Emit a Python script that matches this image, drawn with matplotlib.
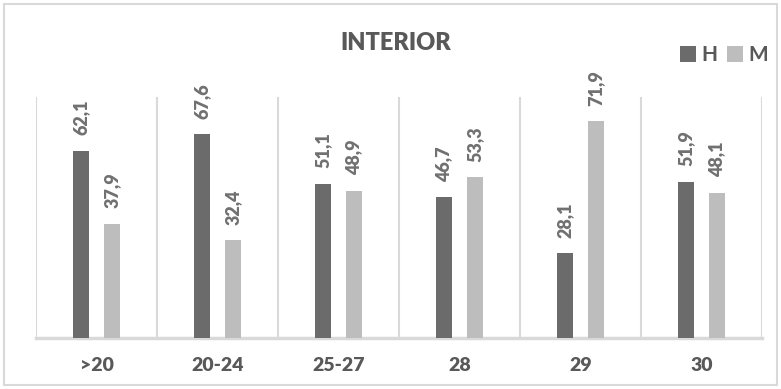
import matplotlib
matplotlib.use("Agg")
import matplotlib.pyplot as plt
from matplotlib.patches import Rectangle
import numpy as np

categories = [">20", "20-24", "25-27", "28", "29", "30"]
h_values = [62.1, 67.6, 51.1, 46.7, 28.1, 51.9]
m_values = [37.9, 32.4, 48.9, 53.3, 71.9, 48.1]
h_labels = ["62,1", "67,6", "51,1", "46,7", "28,1", "51,9"]
m_labels = ["37,9", "32,4", "48,9", "53,3", "71,9", "48,1"]
title = "INTERIOR"
series_names = ["H", "M"]

plt.rcParams['font.family'] = ['Lato', 'DejaVu Sans']

W, H = 781, 389
fig = plt.figure(figsize=(W / 100, H / 100), dpi=100)
fig.patch.set_facecolor("white")

# outer border
fig.add_artist(Rectangle((4 / W, 4 / H), 773 / W, 381 / H, transform=fig.transFigure,
                         fill=False, edgecolor="#d9d9d9", linewidth=1.5))

ax = fig.add_axes([36 / W, 1 - 338 / H, (762 - 36) / W, (338 - 97) / H])
c_h = "#6b6b6b"
c_m = "#bdbdbd"
txt = "#595959"
lbl = "#707070"

x = np.arange(len(categories))
bw = 0.14
off = 0.128
ax.bar(x - off, h_values, bw, color=c_h, label=series_names[0], zorder=3)
ax.bar(x + off, m_values, bw, color=c_m, label=series_names[1], zorder=3)

for i in range(len(categories)):
    ax.text(x[i] - off, h_values[i] + 5.2, h_labels[i], rotation=90, ha="center", va="bottom",
            fontsize=13, fontweight="heavy", color=lbl)
    ax.text(x[i] + off, m_values[i] + 5.2, m_labels[i], rotation=90, ha="center", va="bottom",
            fontsize=13, fontweight="heavy", color=lbl)

ax.set_xlim(-0.5, len(categories) - 0.5)
ax.set_ylim(0, 80)
for b in np.arange(-0.5, len(categories), 1.0):
    ax.axvline(b, color="#d9d9d9", linewidth=1.5, zorder=1)
for s in ["top", "left", "right"]:
    ax.spines[s].set_visible(False)
ax.spines["bottom"].set_color("#d9d9d9")
ax.spines["bottom"].set_linewidth(2.5)
ax.set_yticks([])
ax.set_xticks(x)
ax.set_xticklabels(categories, fontsize=14, fontweight="heavy", color=txt)
ax.tick_params(axis="x", length=0, pad=14)

fig.text(396 / W, 1 - 43 / H, title, ha="center", va="center", fontsize=17,
         fontweight="heavy", color=txt)

leg = fig.legend(loc="center right", bbox_to_anchor=(770 / W, 1 - 55 / H), ncol=2, frameon=False,
                 prop={"size": 15, "weight": "bold"},
                 handlelength=0.75, handleheight=0.8, handletextpad=0.25,
                 columnspacing=0.5, borderpad=0.1, borderaxespad=0, labelcolor=txt)

fig.savefig("out.png", dpi=100, facecolor="white")
